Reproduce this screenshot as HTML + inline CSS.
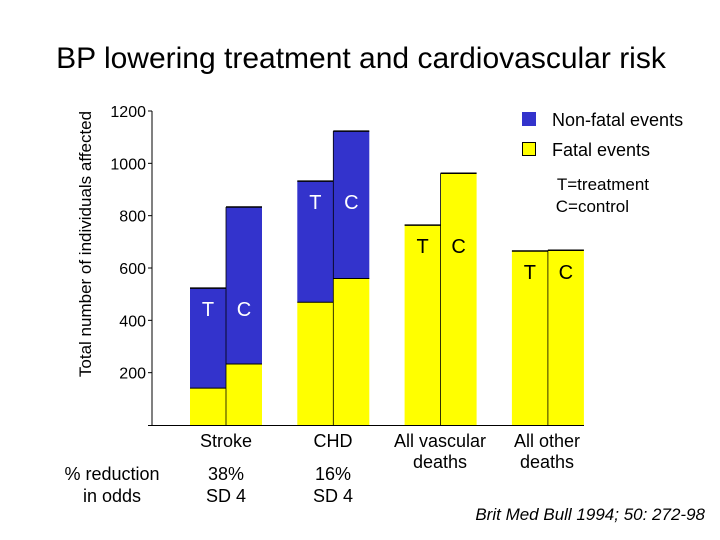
<!DOCTYPE html>
<html><head><meta charset="utf-8"><style>
body{margin:0;background:#fff;width:720px;height:540px;overflow:hidden;font-family:"Liberation Sans",Arial,sans-serif}
svg{display:block}
</style></head><body>
<svg width="720" height="540" font-family="Liberation Sans, Arial, sans-serif">
<text x="361" y="68" text-anchor="middle" font-size="30">BP lowering treatment and cardiovascular risk</text>
<text transform="translate(91,244) rotate(-90)" text-anchor="middle" font-size="17">Total number of individuals affected</text>
<g id="axes"></g>
<g id="bars"></g>
<g>
<rect x="522" y="112" width="14" height="14" fill="#3333cc"/>
<text x="552" y="126" font-size="18">Non-fatal events</text>
<rect x="522.5" y="142.5" width="13" height="13" fill="#ffff00" stroke="#000"/>
<text x="552" y="156" font-size="18">Fatal events</text>
<text x="649" y="190" font-size="17" text-anchor="end">T=treatment</text>
<text x="629" y="212" font-size="17" text-anchor="end">C=control</text>
</g>
<g font-size="18" text-anchor="middle">
<text x="226" y="447">Stroke</text>
<text x="333" y="447">CHD</text>
<text x="440" y="447">All vascular</text><text x="440" y="468">deaths</text>
<text x="547" y="447">All other</text><text x="547" y="468">deaths</text>
</g>
<g font-size="18" text-anchor="middle">
<text x="112" y="480">% reduction</text><text x="112" y="502">in odds</text>
<text x="226" y="480">38%</text><text x="226" y="502">SD 4</text>
<text x="333" y="480">16%</text><text x="333" y="502">SD 4</text>
</g>
<text x="705" y="520" font-size="17" font-style="italic" text-anchor="end">Brit Med Bull 1994; 50: 272-98</text>
</svg>
<script>
const categories=["Stroke","CHD","All vascular deaths","All other deaths"];
const fatalT=[141,469,764,665];
const fatalC=[233,560,962,668];
const totalT=[523,932,764,665];
const totalC=[833,1123,962,668];
const yTicks=[200,400,600,800,1000,1200];
const NS="http://www.w3.org/2000/svg";
const y0=425,pxPer=314/1200;
const y=v=>y0-v*pxPer;
const groupX=i=>190+i*107.3;
const bw=36;
function mk(tag,attrs,parent){const e=document.createElementNS(NS,tag);for(const k in attrs)e.setAttribute(k,attrs[k]);parent.appendChild(e);return e;}
const axes=document.getElementById('axes'),bars=document.getElementById('bars');
let a=mk('line',{x1:152,y1:y(1200),x2:152,y2:y0,stroke:'#000'},axes);


a=mk('line',{x1:148,y1:y0+0.5,x2:584,y2:y0+0.5,stroke:'#000'},axes);


yTicks.forEach(t=>{
 mk('line',{x1:148,y1:y(t),x2:152,y2:y(t),stroke:'#000'},axes);
 const tx=mk('text',{x:146,y:y(t)+6,'text-anchor':'end','font-size':16},axes);
 tx.textContent=t;
 
 
});
categories.forEach((c,i)=>{
 const labY=y(Math.min(totalT[i],totalC[i]))+28;
 [[fatalT[i],totalT[i],'T'],[fatalC[i],totalC[i],'C']].forEach((d,j)=>{
  const x=groupX(i)+j*bw;
  const f=mk('rect',{x:x,y:y(d[0]),width:bw,height:y0-y(d[0]),fill:'#ffff00'},bars);
  
  
  if(d[1]>d[0]){
   const n=mk('rect',{x:x,y:y(d[1]),width:bw,height:y(d[0])-y(d[1]),fill:'#3333cc'},bars);
   
   
   mk('line',{x1:x,y1:y(d[0]),x2:x+bw,y2:y(d[0]),stroke:'#000'},bars);
  }
  mk('line',{x1:x,y1:y(d[1]),x2:x+bw,y2:y(d[1]),stroke:'#000','stroke-width':1.5},bars);
  if(j==1) mk('line',{x1:x,y1:y(Math.max(d[1],totalT[i])),x2:x,y2:y0,stroke:'#000','stroke-width':0.8},bars);
  const lab=mk('text',{x:x+bw/2,y:labY,'text-anchor':'middle','font-size':20,fill:d[1]>d[0]?'#fff':'#000'},bars);
  lab.textContent=d[2];
  
  
 });
});
</script>
</body></html>
